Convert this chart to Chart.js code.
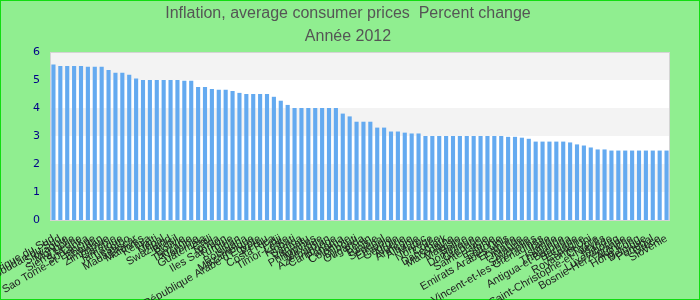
<!DOCTYPE html>
<html>
<head>
<meta charset="utf-8">
<script src="https://cdn.jsdelivr.net/npm/chart.js@4/dist/chart.umd.min.js"></script>
<style>
  html, body { margin: 0; padding: 0; background: #90ee90; }
  #chart { display: block; }
</style>
</head>
<body>
<canvas id="chart" width="700" height="300"></canvas>
<script>
// ---------------------- Data ----------------------
const titleLines = ["Inflation, average consumer prices  Percent change", "Année 2012"];

const countries = [
  "Afrique du Sud", "Soudan du Sud", "Slovaquie", "Mongolie", "Sierra Leone",
  "Sri Lanka", "Sao Tome-et-Principe", "Bhoutan", "Zimbabwe", "Gambie",
  "Jamaïque", "Lesotho", "Madagascar", "Maldives", "Kenya",
  "Haïti", "Népal", "Swaziland", "Brésil", "Bolivie",
  "Tanzanie", "Namibie", "Guatemala", "Chili", "Tonga",
  "Iles Salomon", "Turquie", "Liban", "Botswana", "Mozambique",
  "République Arabe d'Egypte", "Pérou", "Costa Rica", "Fidji", "Timor-Leste",
  "Kiribati", "Samoa", "Vanuatu", "Philippines", "Mexique",
  "Azerbaïdjan", "Cambodge", "Panama", "Colombie", "Djibouti",
  "Ouganda", "Bénin", "Tunisie", "Sénégal", "Ethiopie",
  "Géorgie", "Algérie", "Arménie", "Albanie", "Maroc",
  "Norvège", "Corée", "Danemark", "Macédoine", "Malaisie",
  "Belize", "Dominique", "Grenade", "Sainte-Lucie", "Estonie",
  "Lettonie", "Emirats Arabes Unis", "Erythrée", "Finlande", "Maurice",
  "Seychelles", "Saint-Vincent-et-les Grenadines", "Italie", "Islande", "Thaïlande",
  "Antigua-et-Barbuda", "Barbade", "Espagne", "Royaume-Uni", "Chypre",
  "Saint-Christophe-et-Niévès", "Irlande", "Luxembourg", "Bosnie-Herzégovine", "Autriche",
  "Hong Kong", "Belgique", "Portugal", "Grèce", "Slovénie"
];

const inflation = [
  5.55, 5.5, 5.5, 5.5, 5.5, 5.47, 5.47, 5.47, 5.36, 5.26,
  5.26, 5.19, 5.05, 5.0, 5.0, 5.0, 5.0, 5.0, 5.0, 4.97,
  4.97, 4.75, 4.75, 4.68, 4.65, 4.65, 4.61, 4.54, 4.5, 4.5,
  4.5, 4.5, 4.4, 4.26, 4.11, 4.0, 4.0, 4.0, 4.0, 4.0,
  4.0, 4.0, 3.8, 3.7, 3.51, 3.51, 3.51, 3.3, 3.3, 3.16,
  3.16, 3.12, 3.09, 3.09, 3.0, 3.0, 3.0, 3.0, 3.0, 3.0,
  3.0, 3.0, 3.0, 3.0, 3.0, 3.0, 2.97, 2.97, 2.94, 2.9,
  2.8, 2.8, 2.8, 2.8, 2.8, 2.77, 2.7, 2.66, 2.59, 2.52,
  2.52, 2.48, 2.48, 2.48, 2.48, 2.48, 2.48, 2.48, 2.48, 2.48
];

const yMin = 0;
const yMax = 6;
const yStep = 1;

// ---------------------- Plugins ----------------------
// green page background + outer border
const pageBackground = {
  id: "pageBackground",
  beforeDraw(chart) {
    const { ctx, width, height } = chart;
    ctx.save();
    ctx.fillStyle = "#90ee90";
    ctx.fillRect(0, 0, width, height);
    ctx.strokeStyle = "#11dd11";
    ctx.lineWidth = 1;
    ctx.strokeRect(0.5, 0.5, width - 1, height - 1);
    ctx.restore();
  }
};

// alternating horizontal bands in the plot area
const plotBands = {
  id: "plotBands",
  beforeDatasetsDraw(chart) {
    const { ctx, chartArea: a, scales: { y } } = chart;
    ctx.save();
    ctx.fillStyle = "#ffffff";
    ctx.fillRect(a.left, a.top, a.right - a.left, a.bottom - a.top);
    for (let v = yMin; v < yMax; v += yStep) {
      if ((v / yStep) % 2 === 1) {
        const top = y.getPixelForValue(v + yStep);
        const bottom = y.getPixelForValue(v);
        ctx.fillStyle = "#f3f3f3";
        ctx.fillRect(a.left, top, a.right - a.left, bottom - top);
      }
    }
    ctx.strokeStyle = "#d4d4d4";
    ctx.lineWidth = 1;
    ctx.strokeRect(a.left + 0.5, a.top + 0.5, a.right - a.left - 1, a.bottom - a.top);
    ctx.restore();
  }
};

// ---------------------- Chart ----------------------
new Chart(document.getElementById("chart"), {
  type: "bar",
  data: {
    labels: countries,
    datasets: [{
      label: "Inflation",
      data: inflation,
      backgroundColor: "#64aaf0",
      borderWidth: 0,
      categoryPercentage: 1.0,
      barPercentage: 0.6
    }]
  },
  options: {
    responsive: false,
    animation: false,
    layout: { padding: { left: 26, right: 30, top: 0, bottom: 0 } },
    plugins: {
      legend: { display: false },
      tooltip: { enabled: false },
      title: {
        display: true,
        text: titleLines,
        color: "#555555",
        font: { family: "'Liberation Sans', Arial, sans-serif", size: 16, weight: "normal", lineHeight: 1.4375 },
        padding: { top: 2, bottom: 4 }
      }
    },
    scales: {
      x: {
        grid: { display: false, drawTicks: false },
        border: { display: false },
        ticks: {
          autoSkip: false,
          minRotation: 30,
          maxRotation: 30,
          padding: 12,
          color: "#222222",
          font: { family: "'Liberation Sans', Arial, sans-serif", size: 11 }
        },
        afterFit(scale) {
          scale.height = 80;
          scale.paddingLeft = 0;
          scale.paddingRight = 0;
        }
      },
      y: {
        min: yMin,
        max: yMax,
        grid: { display: false, drawTicks: false },
        border: { display: false },
        ticks: {
          stepSize: yStep,
          padding: 10,
          color: "#000088",
          font: { family: "'DejaVu Sans', sans-serif", size: 11 }
        },
        afterFit(scale) {
          scale.width = 24;
          scale.paddingTop = 0;
          scale.paddingBottom = 0;
        }
      }
    }
  },
  plugins: [pageBackground, plotBands]
});
</script>
</body>
</html>
